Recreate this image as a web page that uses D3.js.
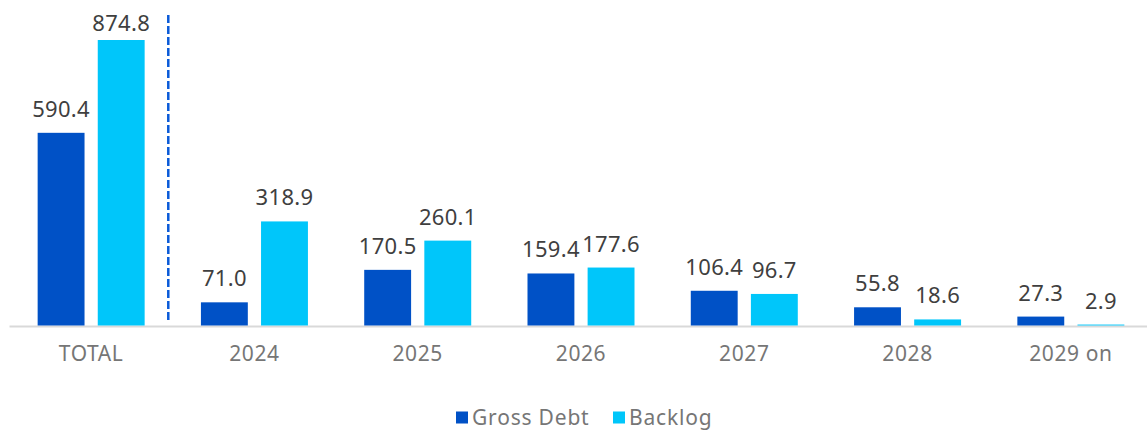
<!DOCTYPE html>
<html>
<head>
<meta charset="utf-8">
<script src="https://cdn.jsdelivr.net/npm/d3@7"></script>
<style>
  body { margin: 0; background: #fff; }
  svg { display: block; font-family: "Noto Sans", sans-serif; }
</style>
</head>
<body>
<div id="chart"></div>
<script>

var categories = ["TOTAL", "2024", "2025", "2026", "2027", "2028", "2029 on"];
var grossDebt  = [590.4, 71.0, 170.5, 159.4, 106.4, 55.8, 27.3];
var backlog    = [874.8, 318.9, 260.1, 177.6, 96.7, 18.6, 2.9];
var seriesNames  = ["Gross Debt", "Backlog"];
var seriesColors = ["#0051c6", "#00c6fa"];

var width  = 1147;
var height = 430;
var baseY  = 325.5;

var svg = d3.select("#chart").append("svg")
    .attr("width", width)
    .attr("height", height);

var x = d3.scaleBand()
    .domain(categories)
    .range([9.5, 1152.5])
    .paddingInner(0)
    .paddingOuter(0);

var inner = d3.scaleBand()
    .domain(seriesNames)
    .range([x.bandwidth() / 2 - 53.5, x.bandwidth() / 2 + 53.5])
    .paddingInner(0.22)
    .paddingOuter(0);

var y = d3.scaleLinear()
    .domain([0, 874.8])
    .range([baseY, 40]);

var rows = categories.map(function (c, i) {
  return { cat: c, values: [grossDebt[i], backlog[i]] };
});

// axis line
svg.append("line")
    .attr("x1", 9.5).attr("x2", width)
    .attr("y1", 326.5).attr("y2", 326.5)
    .attr("stroke", "#d9d9d9")
    .attr("stroke-width", 2);

var groups = svg.selectAll("g.cat")
    .data(rows)
    .enter().append("g")
    .attr("class", "cat")
    .attr("transform", function (d) { return "translate(" + x(d.cat) + ",0)"; });

groups.selectAll("rect")
    .data(function (d) { return d.values.map(function (v, j) { return { v: v, s: seriesNames[j], j: j }; }); })
    .enter().append("rect")
    .attr("x", function (d) { return inner(d.s); })
    .attr("width", inner.bandwidth())
    .attr("y", function (d) { return y(d.v); })
    .attr("height", function (d) { return baseY - y(d.v); })
    .attr("fill", function (d) { return seriesColors[d.j]; });

groups.selectAll("text.val")
    .data(function (d) { return d.values.map(function (v, j) { return { v: v, s: seriesNames[j] }; }); })
    .enter().append("text")
    .attr("class", "val")
    .attr("x", function (d) { return inner(d.s) + inner.bandwidth() / 2; })
    .attr("y", function (d) { return Math.max(y(d.v) - 16, 31); })
    .attr("text-anchor", "middle")
    .attr("font-size", 22)
    .attr("letter-spacing", 0.3)
    .attr("fill", "#3f3f3f")
    .text(function (d) { return d.v.toFixed(1); });

// category labels
svg.append("g")
    .selectAll("text")
    .data(categories)
    .enter().append("text")
    .attr("x", function (d) { return x(d) + x.bandwidth() / 2; })
    .attr("y", 361)
    .attr("text-anchor", "middle")
    .attr("font-size", 21)
    .attr("letter-spacing", 0.6)
    .attr("fill", "#767676")
    .text(function (d) { return d; });

// dashed separator between TOTAL and the years
var sepX = x(categories[1]) - 4.5;
svg.append("line")
    .attr("x1", sepX).attr("x2", sepX)
    .attr("y1", 15).attr("y2", 320)
    .attr("stroke", "#0a5ad8")
    .attr("stroke-width", 2.5)
    .attr("stroke-dasharray", "8,3");

// legend
var legendX = [456, 613];
var legend = svg.append("g");
seriesNames.forEach(function (name, i) {
  legend.append("rect")
      .attr("x", legendX[i]).attr("y", 411.5)
      .attr("width", 12).attr("height", 12)
      .attr("fill", seriesColors[i]);
  legend.append("text")
      .attr("x", legendX[i] + 16).attr("y", 425)
      .attr("font-size", 21)
      .attr("letter-spacing", 0.8)
      .attr("fill", "#767676")
      .text(name);
});

</script>
</body>
</html>
